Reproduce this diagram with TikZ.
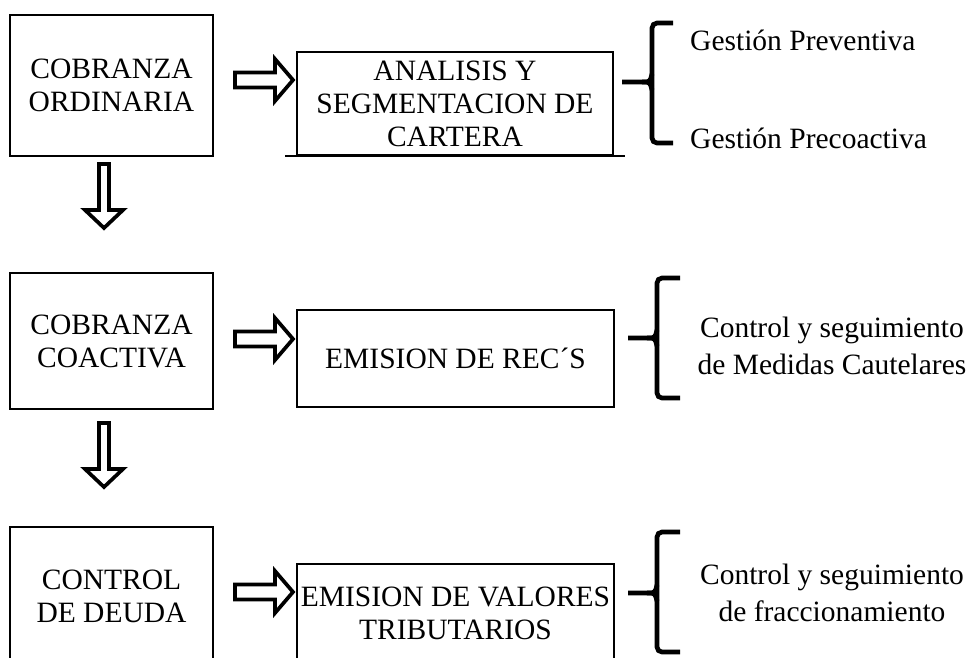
\documentclass[tikz,border=0pt]{standalone}
\usepackage{fontspec}
\setmainfont{Liberation Serif}
\usetikzlibrary{calc}
\begin{document}
\begin{tikzpicture}[x=1pt,y=-1pt,
  box/.style={draw,line width=1.6pt,rectangle,inner sep=0pt,align=center,font=\fontsize{29.5}{33}\selectfont},
  lbl/.style={inner sep=0pt,align=center,font=\fontsize{29.5}{37}\selectfont},
  blockarrow/.style={draw,line width=3.7pt,fill=white,miter limit=10},
  brace/.style={draw,line width=4.7pt},
  rarrow/.pic={\draw[blockarrow] (0,-7.5) -- (40,-7.5) -- (40,-21) -- (58,0) -- (40,21) -- (40,7.5) -- (0,7.5) -- cycle;},
  darrow/.pic={\draw[blockarrow] (-5,0) -- (5,0) -- (5,46) -- (19,46) -- (0,64) -- (-19,46) -- (-5,46) -- cycle;}
]
\clip (0,0) rectangle (971,657);
\fill[white] (0,0) rectangle (971,657);

% left column
\node[box,minimum width=203pt,minimum height=141pt] (b1) at (111.5,85.5) {COBRANZA\\ORDINARIA};
\node[box,minimum width=203pt,minimum height=136pt] (b3) at (111.5,341) {COBRANZA\\COACTIVA};
\node[box,minimum width=203pt,minimum height=138pt] (b5) at (111.5,596) {CONTROL\\DE DEUDA};

% middle column
\node[box,minimum width=316pt,minimum height=103pt] (b2) at (455,103.5) {ANALISIS Y\\SEGMENTACION DE\\CARTERA};
\draw[line width=1.6pt] ($(b2.south west)+(-11,0)$) -- ($(b2.south east)+(11,0)$);
\node[box,minimum width=317pt,minimum height=97pt] (b4) at (455.5,358.5) {EMISION DE REC´S};
\node[box,minimum width=317pt,minimum height=98pt] (b6) at (455.5,613) {EMISION DE VALORES\\TRIBUTARIOS};

% block arrows
\pic at (235,80) {rarrow};
\pic at (235,339) {rarrow};
\pic at (235,592) {rarrow};
\pic at (104,164) {darrow};
\pic at (104,423) {darrow};

% braces
\coordinate (br1) at (622,82);
\draw[brace,rounded corners=5pt] (673,23) -| (652,143) -- (673,143);
\draw[brace] (br1) -- (642,82) .. controls (650,82) .. (652,74);
\draw[brace] (642,82) .. controls (650,82) .. (652,90);

\coordinate (br2) at (628,338);
\draw[brace,rounded corners=5pt] (680,278) -| (657,398) -- (680,398);
\draw[brace] (br2) -- (647,338) .. controls (655,338) .. (657,330);
\draw[brace] (647,338) .. controls (655,338) .. (657,346);

\coordinate (br3) at (628,593);
\draw[brace,rounded corners=5pt] (680,532) -| (657,652) -- (680,652);
\draw[brace] (br3) -- (647,593) .. controls (655,593) .. (657,585);
\draw[brace] (647,593) .. controls (655,593) .. (657,601);

% labels
\node[lbl,anchor=west] (g1) at (690,40) {Gestión Preventiva};
\node[lbl,anchor=west] (g2) at (690,138) {Gestión Precoactiva};
\node[lbl] (m1) at (832,346) {Control y seguimiento\\de Medidas Cautelares};
\node[lbl] (f1) at (832,593) {Control y seguimiento\\de fraccionamiento};
\end{tikzpicture}
\end{document}
